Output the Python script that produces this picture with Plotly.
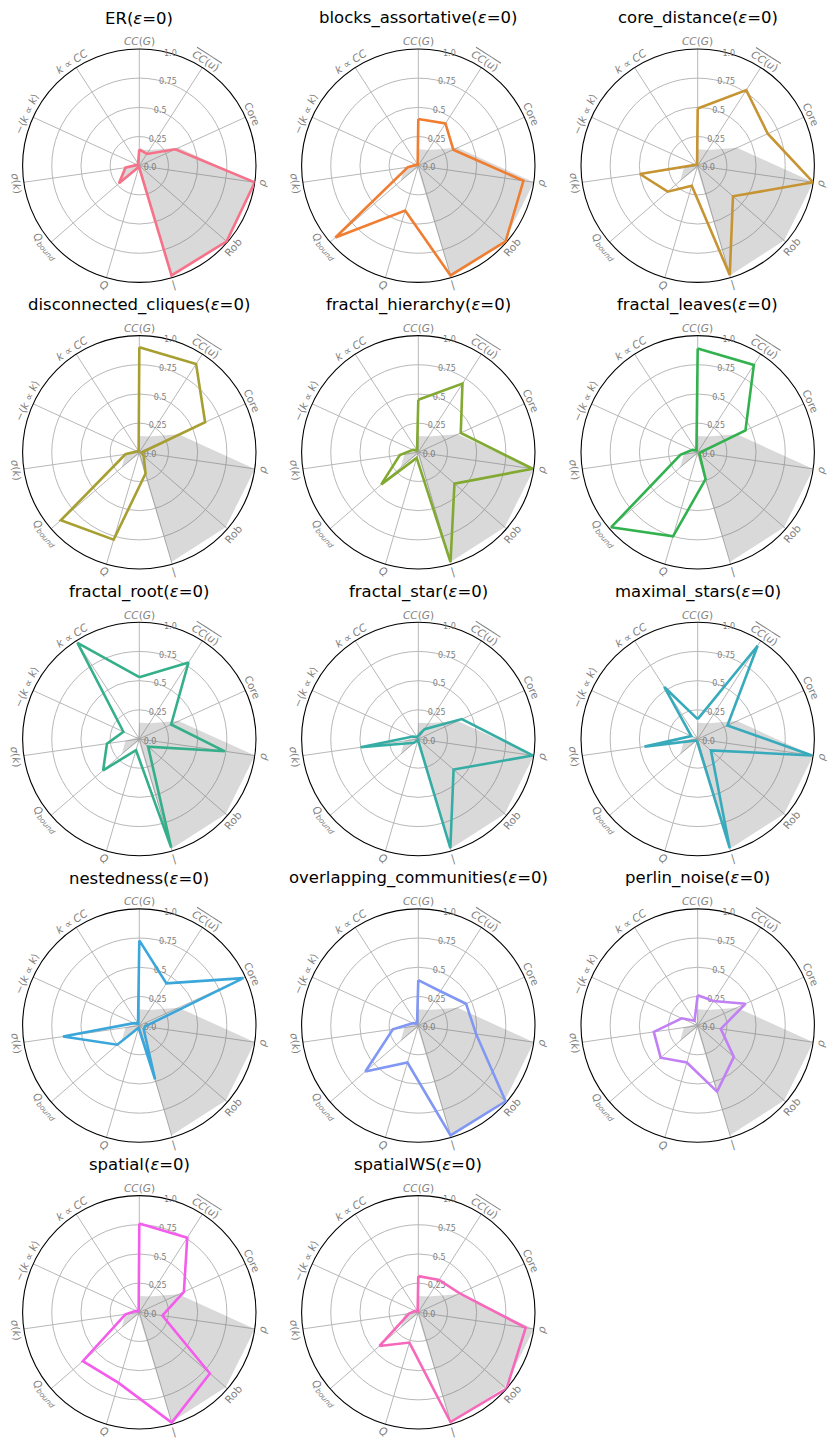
import math
import numpy as np
import plotly.graph_objects as go

# ---------------- data ----------------
axis_labels = [
    "<i>CC</i>(<i>G</i>)",
    "<span style='text-decoration:overline'><i>CC</i>(<i>u</i>)</span>",
    "Core",
    "<i>ρ</i>",
    "Rob",
    "|",
    "<i>Q</i>",
    "<i>Q</i><sub><i>bound</i></sub>",
    "<i>σ</i>(<i>k</i>)",
    "−⟨<i>k</i> ∝ <i>k</i>⟩",
    "<i>k</i> ∝ <i>CC</i>",
]
chart_names = ["ER", "blocks_assortative", "core_distance", "disconnected_cliques",
               "fractal_hierarchy", "fractal_leaves", "fractal_root", "fractal_star",
               "maximal_stars", "nestedness", "overlapping_communities", "perlin_noise",
               "spatial", "spatialWS"]

reference_values = [0.14, 0.16, 0.37, 1.0, 0.98, 0.98, 0.02, 0.20, 0.12, 0.03, 0.02]

ER = [0.14, 0.12, 0.34, 1.0, 0.99, 0.98, 0.01, 0.23, 0.12, 0.02, 0.02]
blocks_assortative = [0.40, 0.43, 0.33, 0.91, 0.99, 0.98, 0.40, 0.94, 0.09, 0.02, 0.01]
core_distance = [0.49, 0.77, 0.66, 1.0, 0.40, 0.975, 0.18, 0.34, 0.50, 0.02, 0.01]
disconnected_cliques = [0.90, 0.90, 0.62, 0.02, 0.05, 0.19, 0.78, 0.89, 0.12, 0.02, 0.01]
fractal_hierarchy = [0.45, 0.70, 0.40, 0.99, 0.41, 0.98, 0.05, 0.42, 0.16, 0.05, 0.02]
fractal_leaves = [0.89, 0.89, 0.45, 0.02, 0.02, 0.24, 0.75, 0.98, 0.15, 0.05, 0.02]
fractal_root = [0.53, 0.78, 0.30, 0.74, 0.10, 0.97, 0.10, 0.41, 0.28, 0.15, 0.98]
fractal_star = [0.03, 0.10, 0.41, 0.99, 0.40, 0.975, 0.01, 0.05, 0.50, 0.05, 0.02]
maximal_stars = [0.17, 0.95, 0.28, 0.99, 0.15, 0.975, 0.02, 0.02, 0.46, 0.06, 0.53]
nestedness = [0.73, 0.43, 0.98, 0.05, 0.05, 0.48, 0.02, 0.25, 0.66, 0.05, 0.02]
overlapping_communities = [0.39, 0.35, 0.45, 0.50, 0.99, 0.98, 0.33, 0.60, 0.22, 0.05, 0.02]
perlin_noise = [0.26, 0.25, 0.45, 0.20, 0.41, 0.59, 0.33, 0.42, 0.38, 0.15, 0.05]
spatial = [0.76, 0.76, 0.42, 0.20, 0.80, 0.985, 0.63, 0.64, 0.12, 0.03, 0.01]
spatialWS = [0.31, 0.33, 0.39, 0.93, 1.0, 0.98, 0.27, 0.44, 0.08, 0.03, 0.01]

series = [ER, blocks_assortative, core_distance, disconnected_cliques, fractal_hierarchy,
          fractal_leaves, fractal_root, fractal_star, maximal_stars, nestedness,
          overlapping_communities, perlin_noise, spatial, spatialWS]

radial_ticks = [0.0, 0.25, 0.5, 0.75, 1.0]
radial_ticktext = ["0.0", "0.25", "0.5", "0.75", "1.0"]

# ---------------- husl palette (seaborn style) ----------------
_m = [[3.2406, -1.5372, -0.4986], [-0.9689, 1.8758, 0.0415], [0.0557, -0.2040, 1.0570]]
_refU, _refV = 0.19784, 0.46834


def _max_chroma(L, H):
    hrad = math.radians(H)
    sinH, cosH = math.sin(hrad), math.cos(hrad)
    sub1 = (L + 16) ** 3 / 1560896.0
    sub2 = sub1 if sub1 > 0.008856 else L / 903.3
    result = float("inf")
    for m1, m2, m3 in _m:
        top = (0.99915 * m1 + 1.05122 * m2 + 1.14460 * m3) * sub2
        rbottom = 0.86330 * m3 - 0.17266 * m2
        lbottom = 0.12949 * m3 - 0.38848 * m1
        bottom = (rbottom * sinH + lbottom * cosH) * sub2
        for t in (0.0, 1.0):
            C = L * (top - 1.05122 * t) / (bottom + 0.17266 * sinH * t)
            if 0.0 < C < result:
                result = C
    return result


def husl_to_hex(H, S, L):
    C = _max_chroma(L, H) / 100.0 * S
    hr = math.radians(H)
    U, V = math.cos(hr) * C, math.sin(hr) * C
    t = (L + 16.0) / 116.0
    Y = t ** 3 if t ** 3 > 0.008856 else (116.0 * t - 16.0) / 903.3
    vu = U / (13.0 * L) + _refU
    vv = V / (13.0 * L) + _refV
    X = 0.0 - (9.0 * Y * vu) / ((vu - 4.0) * vv - vu * vv)
    Z = (9.0 * Y - 15.0 * vv * Y - vv * X) / (3.0 * vv)
    out = []
    for row in _m:
        c = row[0] * X + row[1] * Y + row[2] * Z
        c = 12.92 * c if c <= 0.0031308 else 1.055 * c ** (1 / 2.4) - 0.055
        out.append(int(round(min(max(c, 0), 1) * 255)))
    return "#%02x%02x%02x" % tuple(out)


n = len(chart_names)
hues = (np.linspace(0, 1, n + 1)[:-1] + 0.01) % 1 * 359
colors = [husl_to_hex(h, 0.9 * 99, 0.65 * 99) for h in hues]

# ---------------- layout geometry ----------------
W, H = 837, 1448
R = 116.7
col_cx = [139.3, 418.3, 697.7]
row_cy = [165.7, 452.3, 739.0, 1025.6, 1312.3]
n_ax = len(axis_labels)
theta = [i * 360.0 / n_ax for i in range(n_ax)]
RADIAL_ANGLE = 80

fig = go.Figure()
annotations = []
layout_polars = {}

for k, (name, vals) in enumerate(zip(chart_names, series)):
    r_i, c_i = divmod(k, 3)
    cx, cy = col_cx[c_i], row_cy[r_i]
    key = "polar" if k == 0 else "polar%d" % (k + 1)
    sub = key
    layout_polars[key] = dict(
        domain=dict(x=[(cx - R) / W, (cx + R) / W], y=[1 - (cy + R) / H, 1 - (cy - R) / H]),
        bgcolor="white",
        angularaxis=dict(rotation=90, direction="clockwise", thetaunit="degrees",
                         tickmode="array", tickvals=theta, showticklabels=False, ticks="",
                         showgrid=True, gridcolor="#b8b8b8", gridwidth=0.8,
                         showline=True, linecolor="black", linewidth=1.1, layer="below traces"),
        radialaxis=dict(range=[0, 1], tickmode="array", tickvals=radial_ticks,
                        ticktext=radial_ticktext, showline=False, ticks="",
                        gridcolor="#b8b8b8", gridwidth=0.8, angle=RADIAL_ANGLE, side="clockwise",
                        tickangle=RADIAL_ANGLE,
                        tickfont=dict(family="DejaVu Sans", size=8, color="#808080"),
                        layer="below traces"),
    )
    fig.add_trace(go.Scatterpolar(
        r=reference_values + reference_values[:1], theta=theta + theta[:1],
        mode="lines", fill="toself", fillcolor="rgba(110,110,110,0.26)",
        line=dict(width=0, color="rgba(0,0,0,0)"), subplot=sub, showlegend=False,
        hoverinfo="skip"))
    fig.add_trace(go.Scatterpolar(
        r=vals + vals[:1], theta=theta + theta[:1], mode="lines",
        line=dict(color=colors[k], width=2.6), subplot=sub, showlegend=False))

    annotations.append(dict(
        text="%s(<i>ε</i>=0)" % name, x=cx / W, y=1 - (cy - 147.4) / H,
        xref="paper", yref="paper", showarrow=False, xanchor="center", yanchor="middle",
        font=dict(family="DejaVu Sans", size=16.5, color="black")))

    D = R + 7.5
    for i, lab in enumerate(axis_labels):
        ang = 90.0 - theta[i]
        rot = ang - 90.0
        rot = (rot + 180.0) % 360.0 - 180.0
        if rot < -90:
            rot += 180
        elif rot > 90:
            rot -= 180
        a = math.radians(ang)
        px = cx + D * math.cos(a)
        py = cy - D * math.sin(a)
        annotations.append(dict(
            text=lab, x=px / W, y=1 - py / H, xref="paper", yref="paper",
            showarrow=False, xanchor="center", yanchor="middle", textangle=-rot,
            font=dict(family="DejaVu Sans", size=10.5, color="#808080")))

fig.update_layout(width=W, height=H, autosize=False,
                  margin=dict(l=0, r=0, t=0, b=0),
                  paper_bgcolor="white", plot_bgcolor="white",
                  annotations=annotations, **layout_polars)

fig.write_html("out.html")
